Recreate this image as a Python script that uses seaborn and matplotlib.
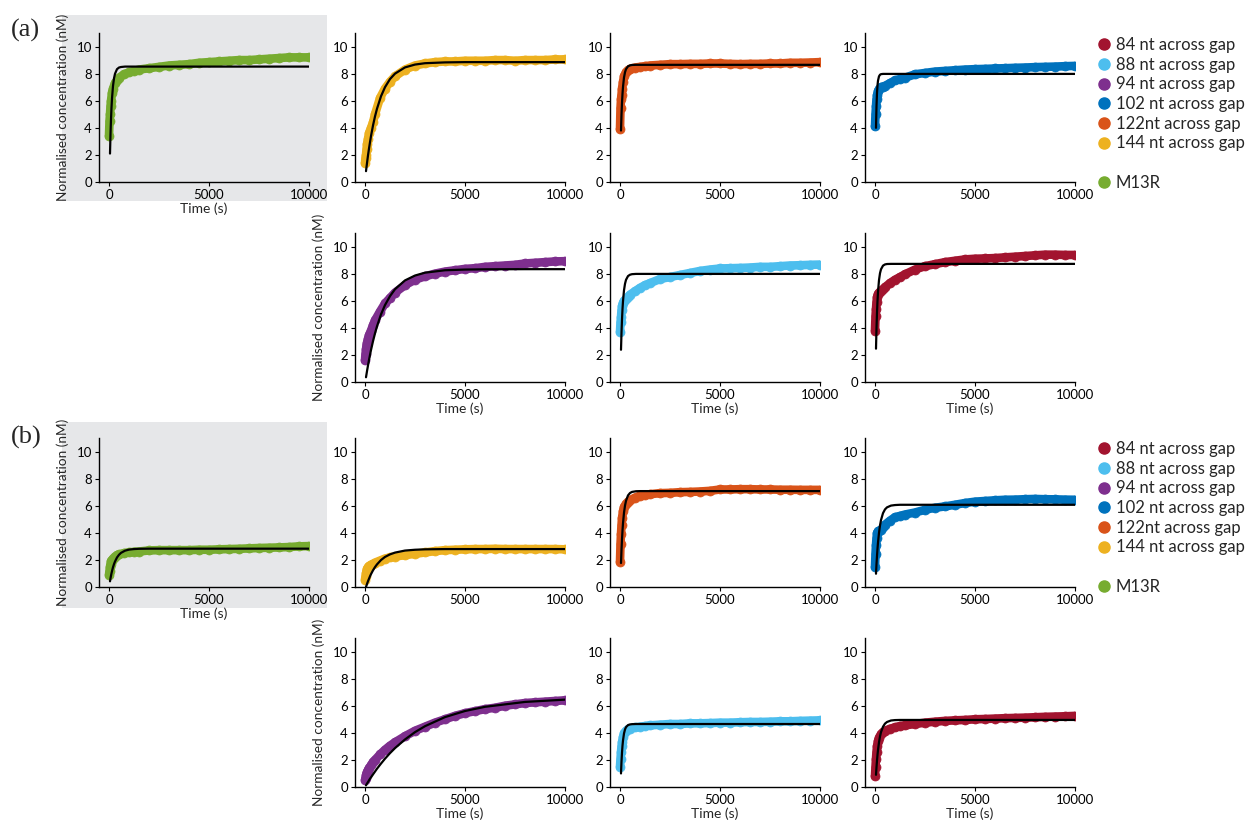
import matplotlib
matplotlib.use("Agg")
import matplotlib.pyplot as plt
from matplotlib.lines import Line2D
from matplotlib.patches import Rectangle
import seaborn as sns

# ---------------- data ----------------
T_DATA = [0, 25, 50, 75, 100, 150, 200, 300, 400, 500, 750, 1000, 1250, 1500, 2000,
          2500, 3000, 3500, 4000, 4500, 5000, 5500, 6000, 6500, 7000, 7500, 8000,
          8500, 9000, 9500, 10000]
T_FIT = [50, 75, 100, 125, 150, 200, 250, 300, 400, 500, 600, 800, 1000, 1250, 1500,
         2000, 2500, 3000, 4000, 5000, 6000, 8000, 10000]

LABELS = ["84 nt across gap", "88 nt across gap", "94 nt across gap", "102 nt across gap",
          "122nt across gap", "144 nt across gap", "M13R"]
COLORS = ["#A2142F", "#4DBEEE", "#7E2F8E", "#0072BD", "#D95319", "#EDB120", "#77AC30"]

X_TICKS = [0, 5000, 10000]
Y_TICKS = [0, 2, 4, 6, 8, 10]

# panel (a) measured data
A_M13R = [3.4, 4.5, 5.0, 5.6, 6.0, 6.6, 6.9, 7.3, 7.5, 7.7, 7.95, 8.1, 8.2, 8.3, 8.4, 8.5,
          8.6, 8.65, 8.7, 8.8, 8.85, 8.9, 8.95, 9.0, 9.0, 9.05, 9.1, 9.15, 9.2, 9.2, 9.2]
A_144 = [1.4, 1.8, 2.0, 2.4, 2.8, 3.2, 3.6, 4.0, 4.4, 5.0, 6.2, 6.9, 7.4, 7.8, 8.3, 8.6,
         8.75, 8.85, 8.9, 8.9, 8.95, 8.95, 8.95, 9.0, 9.0, 8.95, 9.0, 9.0, 9.0, 9.05, 9.05]
A_122 = [3.9, 5.45, 6.1, 6.45, 6.9, 7.4, 7.8, 8.1, 8.25, 8.35, 8.45, 8.5, 8.55, 8.6, 8.65,
         8.7, 8.7, 8.72, 8.72, 8.75, 8.75, 8.72, 8.7, 8.72, 8.72, 8.75, 8.75, 8.8, 8.8, 8.82, 8.85]
A_102 = [4.1, 5.0, 5.6, 6.1, 6.4, 6.7, 6.85, 7.0, 7.05, 7.1, 7.3, 7.5, 7.6, 7.7, 7.95, 8.05,
         8.15, 8.2, 8.25, 8.3, 8.33, 8.35, 8.38, 8.4, 8.43, 8.45, 8.48, 8.5, 8.52, 8.55, 8.57]
A_94 = [1.6, 2.1, 2.4, 2.7, 2.9, 3.2, 3.45, 3.8, 4.2, 4.55, 5.2, 5.8, 6.2, 6.6, 7.15, 7.55,
        7.8, 8.0, 8.15, 8.25, 8.35, 8.4, 8.5, 8.55, 8.6, 8.65, 8.75, 8.8, 8.85, 8.9, 8.92]
A_88 = [3.7, 4.4, 4.8, 5.3, 5.6, 5.85, 6.0, 6.15, 6.3, 6.45, 6.7, 6.95, 7.15, 7.3, 7.6, 7.75,
        7.9, 8.05, 8.2, 8.3, 8.38, 8.4, 8.42, 8.45, 8.5, 8.5, 8.55, 8.6, 8.62, 8.65, 8.67]
A_84 = [3.8, 4.85, 5.4, 5.9, 6.25, 6.5, 6.6, 6.75, 6.85, 7.0, 7.3, 7.55, 7.75, 7.95, 8.3, 8.55,
        8.7, 8.85, 8.95, 9.05, 9.1, 9.12, 9.15, 9.2, 9.25, 9.3, 9.35, 9.4, 9.4, 9.38, 9.38]

# panel (a) fitted curves
FIT_A_M13R = [2.1, 3.52, 4.63, 5.49, 6.16, 7.09, 7.65, 7.99, 8.33, 8.45, 8.49, 8.52] + [8.52] * 11
FIT_A_144 = [0.8, 1.10, 1.39, 1.68, 1.96, 2.47, 2.94, 3.39, 4.17, 4.84, 5.41, 6.33, 7.0, 7.6,
             8.0, 8.46, 8.67, 8.77, 8.83, 8.85, 8.85, 8.85, 8.85]
FIT_A_122 = [3.8, 4.96, 5.84, 6.51, 7.02, 7.71, 8.10, 8.33, 8.54, 8.61, 8.64, 8.65] + [8.65] * 11
FIT_A_102 = [4.0, 5.61, 6.57, 7.14, 7.48, 7.80, 7.92, 7.96, 7.98] + [7.98] * 14
FIT_A_94 = [0.35, 0.575, 0.80, 1.01, 1.22, 1.62, 2.00, 2.36, 3.01, 3.59, 4.11, 4.99, 5.68,
            6.34, 6.85, 7.50, 7.86, 8.07, 8.25, 8.30, 8.32, 8.33, 8.33]
FIT_A_88 = [2.38, 3.64, 4.62, 5.38, 5.96, 6.77, 7.25, 7.54, 7.82, 7.92, 7.96, 7.98] + [7.98] * 11
FIT_A_84 = [2.46, 3.97, 5.11, 5.98, 6.64, 7.52, 8.03, 8.32, 8.59, 8.68, 8.71, 8.72] + [8.72] * 11

# panel (b) measured data
B_M13R = [0.9, 1.2, 1.5, 1.7, 1.9, 2.0, 2.1, 2.25, 2.35, 2.4, 2.5, 2.55, 2.6, 2.62, 2.7, 2.72,
          2.72, 2.72, 2.72, 2.75, 2.75, 2.78, 2.8, 2.82, 2.85, 2.88, 2.9, 2.92, 2.95, 3.0, 3.02]
B_144 = [0.55, 0.8, 1.0, 1.2, 1.35, 1.45, 1.55, 1.65, 1.72, 1.8, 1.95, 2.1, 2.18, 2.25, 2.35,
         2.45, 2.55, 2.65, 2.72, 2.75, 2.78, 2.8, 2.8, 2.82, 2.8, 2.8, 2.8, 2.8, 2.8, 2.8, 2.78]
B_122 = [1.85, 3.17, 3.93, 4.55, 5.1, 5.6, 5.9, 6.15, 6.3, 6.4, 6.6, 6.75, 6.8, 6.85, 6.93,
         6.95, 7.0, 7.02, 7.05, 7.1, 7.2, 7.2, 7.22, 7.22, 7.2, 7.2, 7.18, 7.18, 7.17, 7.17, 7.17]
B_102 = [1.47, 2.46, 3.12, 3.6, 3.98, 4.1, 4.15, 4.23, 4.4, 4.6, 4.9, 5.15, 5.25, 5.35, 5.5,
         5.7, 5.85, 5.95, 6.07, 6.2, 6.3, 6.35, 6.4, 6.44, 6.45, 6.48, 6.5, 6.48, 6.47, 6.45, 6.44]
B_94 = [0.5, 0.7, 0.85, 1.0, 1.1, 1.25, 1.4, 1.6, 1.85, 2.0, 2.4, 2.75, 3.05, 3.3, 3.75, 4.15,
        4.45, 4.75, 5.0, 5.25, 5.45, 5.6, 5.75, 5.85, 6.0, 6.1, 6.2, 6.25, 6.3, 6.35, 6.4]
B_88 = [1.5, 2.1, 2.6, 3.0, 3.3, 3.7, 3.95, 4.15, 4.25, 4.3, 4.4, 4.45, 4.5, 4.55, 4.6, 4.65,
        4.65, 4.7, 4.7, 4.72, 4.75, 4.75, 4.78, 4.8, 4.8, 4.82, 4.85, 4.85, 4.88, 4.9, 4.92]
B_84 = [0.8, 1.5, 2.1, 2.6, 3.0, 3.4, 3.65, 3.9, 4.05, 4.15, 4.3, 4.4, 4.5, 4.55, 4.65, 4.75,
        4.82, 4.88, 4.92, 4.95, 5.0, 5.02, 5.05, 5.08, 5.1, 5.12, 5.15, 5.18, 5.2, 5.22, 5.25]

# panel (b) fitted curves
FIT_B_M13R = [0.42, 0.64, 0.83, 1.01, 1.17, 1.46, 1.69, 1.88, 2.18, 2.38, 2.52, 2.68, 2.76,
              2.80, 2.82, 2.83] + [2.83] * 7
FIT_B_144 = [0.0, 0.11, 0.22, 0.33, 0.43, 0.61, 0.79, 0.95, 1.23, 1.47, 1.67, 1.99, 2.22,
             2.41, 2.54, 2.69, 2.75, 2.78, 2.80, 2.80, 2.80, 2.80, 2.80]
FIT_B_122 = [1.77, 2.73, 3.52, 4.17, 4.70, 5.48, 6.01, 6.36, 6.76, 6.94, 7.02, 7.07, 7.08] + [7.08] * 10
FIT_B_102 = [0.98, 1.69, 2.30, 2.83, 3.28, 4.00, 4.54, 4.94, 5.45, 5.73, 5.88, 6.01, 6.05,
             6.07] + [6.07] * 9
FIT_B_94 = [0.12, 0.19, 0.25, 0.31, 0.37, 0.49, 0.61, 0.71, 0.93, 1.14, 1.35, 1.73, 2.09,
            2.50, 2.87, 3.51, 4.05, 4.49, 5.16, 5.61, 5.92, 6.28, 6.45]
FIT_B_88 = [1.0, 1.88, 2.54, 3.05, 3.43, 3.95, 4.25, 4.42, 4.57, 4.62, 4.64, 4.65] + [4.65] * 11
FIT_B_84 = [0.9, 1.46, 1.95, 2.37, 2.73, 3.30, 3.73, 4.05, 4.45, 4.68, 4.80, 4.91, 4.94,
            4.95] + [4.95] * 9

# ---------------- style ----------------
sns.set_style("ticks")
plt.rcParams["font.family"] = ["Lato", "DejaVu Sans"]
plt.rcParams["axes.linewidth"] = 1.0

W, H = 1247, 823
fig = plt.figure(figsize=(W / 100, H / 100), dpi=100)

COL_LEFT = [99, 355, 610, 865]
AX_W = 210
AX_H = 149
ROW_TOP = {"a": [33, 233], "b": [438, 638]}
GREY = "#E6E7E9"

# grey backgrounds behind the M13R reference panels
for y0, y1 in [(15, 201), (422, 608)]:
    fig.patches.append(Rectangle((62 / W, 1 - y1 / H), (327 - 62) / W, (y1 - y0) / H,
                                 transform=fig.transFigure, facecolor=GREY,
                                 edgecolor="none", zorder=-5))

# (row, col, label index, data, fit)
LAYOUT = {
    "a": [(0, 0, 6, A_M13R, FIT_A_M13R), (0, 1, 5, A_144, FIT_A_144),
          (0, 2, 4, A_122, FIT_A_122), (0, 3, 3, A_102, FIT_A_102),
          (1, 1, 2, A_94, FIT_A_94), (1, 2, 1, A_88, FIT_A_88), (1, 3, 0, A_84, FIT_A_84)],
    "b": [(0, 0, 6, B_M13R, FIT_B_M13R), (0, 1, 5, B_144, FIT_B_144),
          (0, 2, 4, B_122, FIT_B_122), (0, 3, 3, B_102, FIT_B_102),
          (1, 1, 2, B_94, FIT_B_94), (1, 2, 1, B_88, FIT_B_88), (1, 3, 0, B_84, FIT_B_84)],
}

for panel, items in LAYOUT.items():
    for row, col, li, data, fit in items:
        top = ROW_TOP[panel][row]
        ax = fig.add_axes([COL_LEFT[col] / W, 1 - (top + AX_H) / H, AX_W / W, AX_H / H])
        ax.set_zorder(2)
        ax.patch.set_visible(False)
        c = COLORS[li]
        sns.lineplot(x=T_DATA, y=data, ax=ax, color=c, lw=6.2, marker="o", ms=6.5,
                     markeredgecolor=c, markeredgewidth=0.5, estimator=None, sort=False,
                     zorder=2, solid_capstyle="round", solid_joinstyle="round")
        sns.lineplot(x=T_FIT, y=fit, ax=ax, color="black", lw=1.6,
                     estimator=None, sort=False, zorder=3)
        ax.set_xlim(-500, 10000)
        ax.set_ylim(0, 11)
        ax.set_xticks(X_TICKS)
        ax.set_yticks(Y_TICKS)
        ax.set_xticklabels([str(t) for t in X_TICKS])
        ax.tick_params(direction="out", length=3, width=0.8, labelsize=9.5, pad=2,
                       colors="black")
        for s in ["top", "right"]:
            ax.spines[s].set_visible(False)
        for s in ["left", "bottom"]:
            ax.spines[s].set_color("black")
        if (row == 0 and col == 0) or (row == 1 and col == 1):
            ax.set_ylabel("Normalised concentration (nM)", fontsize=9.8)
            ax.yaxis.set_label_coords(-0.145, 0.5)
        else:
            ax.set_ylabel("")
        if row == 1 or col == 0:
            ax.set_xlabel("Time (s)", fontsize=10, labelpad=1)
        else:
            ax.set_xlabel("")

# panel letters
fig.text(11 / W, 1 - 30 / H, "(a)", family="Liberation Serif", fontsize=19, va="center")
fig.text(11 / W, 1 - 437 / H, "(b)", family="Liberation Serif", fontsize=19, va="center")

# legends
handles = [Line2D([], [], ls="", marker="o", ms=8, color=COLORS[i], mec=COLORS[i])
           for i in range(6)]
handles.append(Line2D([], [], ls="", marker="", color="none"))
handles.append(Line2D([], [], ls="", marker="o", ms=8, color=COLORS[6], mec=COLORS[6]))
labels = LABELS[:6] + [" "] + [LABELS[6]]
for ytop in [37, 441]:
    fig.legend(handles, labels, loc="upper left", bbox_to_anchor=(1095 / W, 1 - ytop / H),
               frameon=False, fontsize=12, handletextpad=0.15, labelspacing=0.22,
               borderpad=0, borderaxespad=0, handlelength=1.1)

fig.savefig("out.png", dpi=100)
